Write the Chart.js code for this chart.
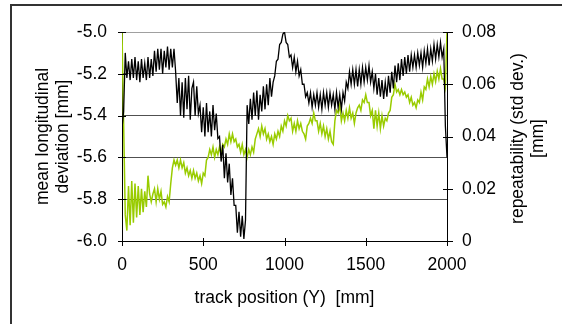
<!DOCTYPE html>
<html>
<head>
<meta charset="utf-8">
<script src="https://cdn.jsdelivr.net/npm/chart.js@4"></script>
<style>
  html, body { margin: 0; padding: 0; background: #fff; }
  #wrap { position: relative; width: 562px; height: 324px; }
</style>
</head>
<body>
<div id="wrap"><canvas id="c" width="562" height="324"></canvas></div>
<script>
// track position sampled every 10 mm from 0 to 2000 mm
const trackPos = Array.from({ length: 201 }, (_, i) => i * 10);

// mean longitudinal deviation [mm] (left axis)
const meanDeviation = [
  -5.46,-5.38,-5.10,-5.22,-5.14,-5.23,-5.13,-5.22,-5.12,-5.23,
  -5.14,-5.24,-5.13,-5.22,-5.15,-5.23,-5.12,-5.22,-5.13,-5.21,
  -5.09,-5.19,-5.08,-5.18,-5.08,-5.20,-5.09,-5.17,-5.07,-5.18,
  -5.08,-5.17,-5.08,-5.19,-5.34,-5.22,-5.40,-5.24,-5.41,-5.22,
  -5.37,-5.21,-5.42,-5.27,-5.24,-5.40,-5.26,-5.39,-5.35,-5.48,
  -5.36,-5.50,-5.34,-5.48,-5.38,-5.50,-5.35,-5.47,-5.39,-5.51,
  -5.50,-5.62,-5.54,-5.70,-5.58,-5.72,-5.63,-5.78,-5.70,-5.83,
  -5.83,-5.96,-5.86,-5.98,-5.88,-5.99,-5.90,-5.35,-5.44,-5.32,
  -5.42,-5.29,-5.40,-5.28,-5.42,-5.30,-5.38,-5.26,-5.37,-5.25,
  -5.35,-5.22,-5.31,-5.24,-5.21,-5.14,-5.13,-5.06,-5.05,-5.01,
  -5.00,-5.05,-5.06,-5.12,-5.11,-5.17,-5.12,-5.19,-5.14,-5.21,
  -5.18,-5.25,-5.25,-5.31,-5.29,-5.34,-5.29,-5.36,-5.30,-5.35,
  -5.29,-5.36,-5.30,-5.37,-5.29,-5.35,-5.29,-5.36,-5.29,-5.35,
  -5.30,-5.37,-5.29,-5.36,-5.30,-5.37,-5.29,-5.33,-5.24,-5.27,
  -5.19,-5.25,-5.18,-5.25,-5.18,-5.26,-5.18,-5.25,-5.17,-5.24,
  -5.17,-5.23,-5.16,-5.24,-5.19,-5.27,-5.20,-5.30,-5.22,-5.31,
  -5.23,-5.32,-5.24,-5.31,-5.21,-5.29,-5.19,-5.27,-5.16,-5.24,
  -5.15,-5.23,-5.13,-5.21,-5.12,-5.20,-5.11,-5.19,-5.11,-5.17,
  -5.11,-5.17,-5.10,-5.16,-5.10,-5.17,-5.09,-5.15,-5.08,-5.16,
  -5.08,-5.14,-5.06,-5.13,-5.06,-5.12,-5.05,-5.12,-5.08,-5.45,
  -5.60
];

// repeatability, standard deviation [mm] (right axis)
const repeatability = [
  0.080,0.045,0.010,0.004,0.021,0.006,0.023,0.007,0.022,0.009,
  0.021,0.010,0.020,0.011,0.019,0.013,0.025,0.018,0.015,0.018,
  0.020,0.015,0.020,0.016,0.019,0.014,0.015,0.013,0.017,0.015,
  0.022,0.028,0.031,0.029,0.031,0.028,0.031,0.028,0.030,0.026,
  0.028,0.025,0.027,0.024,0.027,0.024,0.026,0.023,0.025,0.022,
  0.026,0.025,0.031,0.032,0.035,0.033,0.036,0.032,0.035,0.033,
  0.036,0.033,0.037,0.036,0.039,0.037,0.041,0.038,0.041,0.038,
  0.039,0.036,0.037,0.034,0.037,0.033,0.035,0.032,0.035,0.033,
  0.036,0.034,0.039,0.041,0.043,0.040,0.044,0.041,0.043,0.039,
  0.041,0.038,0.040,0.037,0.041,0.039,0.042,0.040,0.044,0.042,
  0.046,0.044,0.048,0.046,0.047,0.042,0.045,0.042,0.046,0.043,
  0.045,0.042,0.041,0.039,0.044,0.045,0.047,0.045,0.049,0.046,
  0.046,0.042,0.045,0.041,0.044,0.040,0.043,0.039,0.042,0.038,
  0.037,0.046,0.050,0.049,0.052,0.046,0.049,0.046,0.050,0.047,
  0.051,0.047,0.049,0.045,0.049,0.051,0.052,0.050,0.054,0.053,
  0.056,0.053,0.053,0.048,0.050,0.043,0.050,0.044,0.049,0.043,
  0.048,0.044,0.047,0.046,0.049,0.050,0.055,0.056,0.060,0.057,
  0.058,0.056,0.058,0.056,0.057,0.055,0.056,0.053,0.055,0.052,
  0.053,0.051,0.054,0.053,0.057,0.054,0.059,0.058,0.062,0.059,
  0.063,0.060,0.064,0.061,0.065,0.062,0.066,0.062,0.062,0.059,
  0.080
];

// axis ranges and ticks
const xTicks = [0, 500, 1000, 1500, 2000];
const leftTicks = [-6.0, -5.8, -5.6, -5.4, -5.2, -5.0];
const rightTicks = [0, 0.02, 0.04, 0.06, 0.08];

const xTitle = 'track position (Y)  [mm]';
const leftTitle = ['mean longitudinal', 'deviation [mm]'];
const rightTitle = ['repeatability (std dev.)', '[mm]'];

const FONT = "'Liberation Sans', Arial, sans-serif";
const FS = 17.5;

const decor = {
  id: 'decor',
  beforeDraw(chart) {
    const ctx = chart.ctx;
    ctx.save();
    ctx.fillStyle = '#fff';
    ctx.fillRect(0, 0, chart.width, chart.height);
    ctx.strokeStyle = '#333';
    ctx.lineWidth = 2;
    ctx.strokeRect(11, 5, 700, 500);
    ctx.restore();
  },
  afterDraw(chart) {
    const ctx = chart.ctx;
    const { x, y, y2 } = chart.scales;
    const a = chart.chartArea;
    ctx.save();
    ctx.strokeStyle = '#000';
    ctx.lineWidth = 1;
    ctx.beginPath();
    leftTicks.forEach(v => {
      const p = Math.round(y.getPixelForValue(v)) + 0.5;
      ctx.moveTo(a.left - 4, p); ctx.lineTo(a.left + 4, p);
    });
    rightTicks.forEach(v => {
      const p = Math.round(y2.getPixelForValue(v)) + 0.5;
      ctx.moveTo(a.right - 4, p); ctx.lineTo(a.right + 6, p);
    });
    xTicks.forEach(v => {
      const p = Math.round(x.getPixelForValue(v)) + 0.5;
      ctx.moveTo(p, a.bottom - 3); ctx.lineTo(p, a.bottom + 5);
    });
    ctx.stroke();

    ctx.fillStyle = '#000';
    ctx.font = FS + 'px ' + FONT;
    ctx.textAlign = 'center';
    ctx.textBaseline = 'middle';
    ctx.fillText(xTitle, (a.left + a.right) / 2, 298);

    const cy = (a.top + a.bottom) / 2;
    ctx.save();
    ctx.translate(43, cy);
    ctx.rotate(-Math.PI / 2);
    ctx.fillText(leftTitle[0], 0, 0);
    ctx.fillText(leftTitle[1], 0, 20);
    ctx.restore();

    ctx.save();
    ctx.translate(518, cy + 2);
    ctx.rotate(-Math.PI / 2);
    ctx.fillText(rightTitle[0], 0, 0);
    ctx.fillText(rightTitle[1], 0, 20);
    ctx.restore();
    ctx.restore();
  }
};

new Chart(document.getElementById('c'), {
  type: 'line',
  data: {
    datasets: [
      {
        label: 'mean deviation',
        data: trackPos.map((p, i) => ({ x: p, y: meanDeviation[i] })),
        yAxisID: 'y',
        borderColor: '#000',
        borderWidth: 1.3,
        pointRadius: 0,
        tension: 0
      },
      {
        label: 'repeatability',
        data: trackPos.map((p, i) => ({ x: p, y: repeatability[i] })),
        yAxisID: 'y2',
        borderColor: '#99cc00',
        borderWidth: 1.5,
        pointRadius: 0,
        tension: 0
      }
    ]
  },
  options: {
    responsive: false,
    animation: false,
    events: [],
    layout: { padding: { top: 32, left: 0, right: 0, bottom: 0 } },
    plugins: { legend: { display: false }, tooltip: { enabled: false } },
    scales: {
      x: {
        type: 'linear',
        min: 0, max: 2000,
        afterFit(s) { s.height = 83; },
        afterBuildTicks(s) { s.ticks = xTicks.map(v => ({ value: v })); },
        grid: { display: false, drawTicks: false },
        border: { display: true, color: '#000', width: 1 },
        ticks: {
          padding: 14, color: '#000', font: { family: FONT, size: FS }, maxRotation: 0,
          callback: v => String(v)
        }
      },
      y: {
        position: 'left',
        min: -6, max: -5,
        afterFit(s) { s.width = 122; },
        afterBuildTicks(s) { s.ticks = leftTicks.map(v => ({ value: v })); },
        grid: {
          drawTicks: false,
          color: ctx => (ctx.tick && Math.abs(ctx.tick.value + 5) < 1e-6) ? '#a0a0a0' : '#505050',
          lineWidth: 1
        },
        border: { display: true, color: '#000', width: 1 },
        ticks: {
          padding: 15, color: '#000', font: { family: FONT, size: FS },
          callback: v => Number(v).toFixed(1)
        }
      },
      y2: {
        position: 'right',
        min: 0, max: 0.08,
        afterFit(s) { s.width = 115; },
        afterBuildTicks(s) { s.ticks = rightTicks.map(v => ({ value: v })); },
        grid: { drawOnChartArea: false, drawTicks: false },
        border: { display: true, color: '#000', width: 1 },
        ticks: {
          padding: 15, color: '#000', font: { family: FONT, size: FS },
          callback: v => (v === 0 ? '0' : Number(v).toFixed(2))
        }
      }
    }
  },
  plugins: [decor]
});
</script>
</body>
</html>
